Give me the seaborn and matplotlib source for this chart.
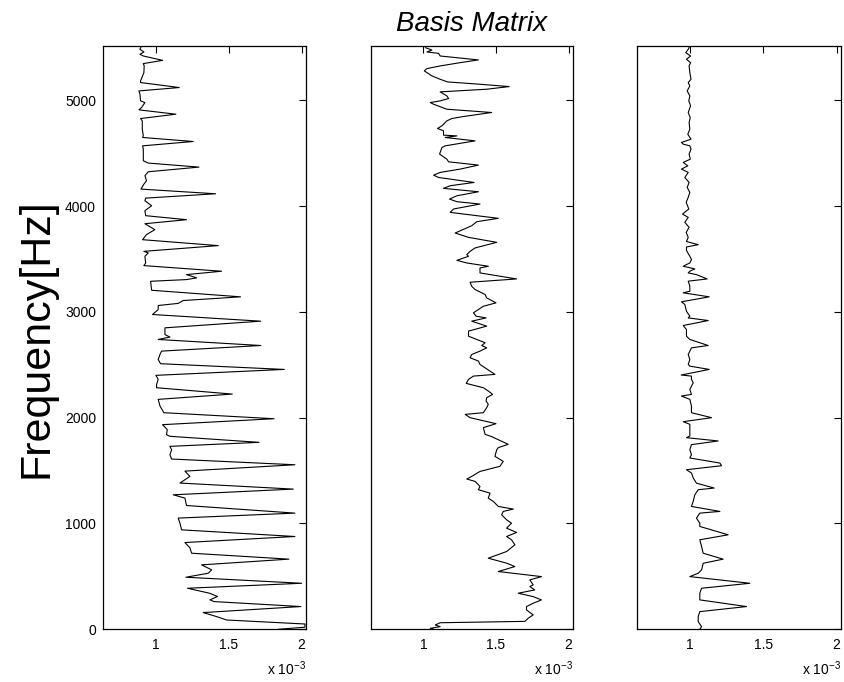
import numpy as np
import matplotlib
matplotlib.use("Agg")
import matplotlib.pyplot as plt
import seaborn as sns

# ---------------- data (values in units of 1e-3) ----------------
freq_1 = [5513, 5481, 5456, 5434, 5418, 5377, 5346, 5324, 5261, 5182, 5167, 5120, 5088, 5057, 4994,
          4978, 4931, 4909, 4868, 4827, 4805, 4726, 4663, 4648, 4610, 4569, 4538, 4428, 4406, 4368,
          4324, 4286, 4239, 4207, 4160, 4116, 4075, 4050, 4003, 3956, 3909, 3871,
          3833, 3777, 3730, 3682, 3626, 3572, 3557, 3525, 3462, 3437, 3384, 3352, 3321, 3305, 3289,
          3204, 3142, 3107, 3080, 3060, 3022, 2975, 2912, 2849, 2785, 2762, 2739, 2682, 2629, 2597,
          2550, 2510, 2456, 2400, 2362, 2315, 2283, 2223, 2173, 2110, 2047, 1990,
          1934, 1887, 1839, 1824, 1767, 1729, 1697, 1650, 1609, 1555, 1495, 1445, 1382, 1325, 1271,
          1240, 1170, 1098, 1051, 1003, 940, 877, 820, 770, 719, 663, 609, 562, 530, 492,
          435, 388, 340, 310, 278, 262, 215, 158, 120, 88, 50, 20, 0]
basis_1 = [0.904, 0.893, 0.920, 0.893, 0.916, 1.048, 0.916, 0.922, 0.920, 0.897, 0.897, 1.162, 0.886, 0.893, 0.897,
           0.927, 0.904, 0.886, 1.139, 0.897, 0.909, 0.909, 0.916, 0.911, 1.258, 0.911, 0.916, 0.916, 0.950, 1.297,
           0.950, 0.927, 0.938, 0.920, 0.900, 1.411, 0.932, 0.927, 0.973, 0.927, 0.932, 1.212,
           0.927, 0.995, 0.938, 0.911, 1.429, 0.920, 0.950, 0.927, 0.932, 0.920, 1.452, 1.212, 1.281, 1.212, 0.966,
           0.973, 1.582, 1.189, 1.155, 1.018, 1.018, 0.979, 1.719, 1.064, 1.064, 1.098, 1.018, 1.721, 1.041, 1.030,
           1.018, 1.034, 1.881, 1.002, 1.018, 1.007, 1.007, 1.525, 1.018, 1.030, 1.057, 1.811,
           1.048, 1.080, 1.075, 1.098, 1.708, 1.098, 1.110, 1.098, 1.110, 1.954, 1.201, 1.235, 1.167, 1.943, 1.121,
           1.201, 1.212, 1.954, 1.155, 1.167, 1.178, 1.954, 1.201, 1.235, 1.247, 1.913, 1.315, 1.384, 1.361, 1.208,
           2.000, 1.219, 1.372, 1.424, 1.372, 1.400, 1.995, 1.326, 1.418, 1.486, 2.023, 2.023, 1.840]

freq_2 = [5497, 5475, 5456, 5443, 5418, 5381, 5355, 5324, 5299, 5277, 5261, 5230, 5198, 5173, 5151,
          5129, 5104, 5079, 5041, 5016, 4994, 4978, 4962, 4915, 4884, 4846, 4827, 4805, 4758, 4733,
          4711, 4670, 4663, 4648, 4616, 4569, 4553, 4491, 4443, 4418, 4387, 4349, 4318, 4292, 4270,
          4223, 4192, 4167, 4135, 4097, 4066, 4041, 4019, 3972, 3940, 3884, 3852, 3814, 3745, 3704, 3657,
          3604, 3572, 3541, 3525, 3487, 3462, 3431, 3415, 3368, 3311, 3280, 3242, 3211, 3164, 3132,
          3085, 3053, 3022, 2991, 2959, 2943, 2912, 2865, 2818, 2770, 2739, 2708, 2682, 2660, 2629,
          2597, 2566, 2535, 2503, 2409, 2393, 2362, 2324, 2283, 2252, 2220, 2189, 2157, 2126, 2094,
          2047, 2031, 2000, 1943, 1906, 1843, 1821, 1748, 1717,
          1697, 1634, 1587, 1540, 1492, 1445, 1420, 1398, 1350, 1319, 1287, 1240, 1208, 1161, 1136,
          1114, 1082, 1035, 1003, 956, 915, 877, 846, 798, 735, 672, 625, 593, 546, 498,
          467, 420, 404, 372, 341, 309, 278, 246, 215, 183, 136, 104, 75, 62, 41, 25, 9, 0]
basis_2 = [1.014, 1.059, 1.025, 1.105, 1.116, 1.379, 1.253, 1.116, 1.025, 1.007, 1.025, 1.059, 1.116, 1.167, 1.390,
           1.591, 1.436, 1.116, 1.162, 1.174, 1.116, 1.048, 1.071, 1.162, 1.470, 1.276, 1.196, 1.162, 1.128, 1.098,
           1.139, 1.139, 1.231, 1.151, 1.356, 1.151, 1.128, 1.112, 1.162, 1.174, 1.379, 1.253, 1.116, 1.071, 1.105,
           1.349, 1.185, 1.139, 1.379, 1.231, 1.180, 1.231, 1.390, 1.208, 1.185, 1.516, 1.368, 1.333, 1.219, 1.311, 1.505,
           1.356, 1.322, 1.299, 1.311, 1.231, 1.299, 1.447, 1.390, 1.390, 1.642, 1.322, 1.333, 1.356, 1.425, 1.436,
           1.500, 1.413, 1.379, 1.345, 1.363, 1.432, 1.333, 1.436, 1.311, 1.311, 1.368, 1.425, 1.402, 1.436, 1.390,
           1.333, 1.322, 1.379, 1.390, 1.493, 1.345, 1.311, 1.295, 1.413, 1.447, 1.477, 1.436, 1.432, 1.447, 1.436,
           1.413, 1.288, 1.322, 1.500, 1.413, 1.425, 1.470, 1.584, 1.516,
           1.505, 1.493, 1.550, 1.527, 1.390, 1.333, 1.299, 1.356, 1.390, 1.379, 1.459, 1.447, 1.482, 1.516, 1.619,
           1.550, 1.539, 1.573, 1.607, 1.573, 1.642, 1.573, 1.607, 1.630, 1.573, 1.447, 1.573, 1.630, 1.516, 1.813,
           1.733, 1.756, 1.733, 1.767, 1.653, 1.756, 1.813, 1.756, 1.710, 1.710, 1.756, 1.721, 1.700, 1.116, 1.082,
           1.116, 1.048, 1.070]

freq_3 = [5513, 5481, 5450, 5418, 5387, 5355, 5324, 5261, 5198, 5167, 5135, 5088, 5041, 4994, 4947,
          4884, 4836, 4789, 4726, 4679, 4632, 4601, 4585, 4569, 4538, 4491, 4443, 4412, 4380, 4349,
          4318, 4270, 4223, 4176, 4129, 4082, 4035, 3972, 3924, 3893, 3846, 3799, 3751, 3704, 3665,
          3635, 3613, 3580, 3525, 3494, 3462, 3447, 3431, 3406, 3384, 3368, 3352, 3311, 3290, 3243,
          3195, 3180, 3142, 3095, 3070, 3006, 2959, 2943, 2918, 2871, 2833, 2770, 2739, 2682, 2660,
          2597, 2550, 2503, 2487, 2456, 2403, 2393, 2362, 2330, 2267, 2220, 2204, 2173, 2110, 2047,
          2000, 1962, 1937, 1874, 1827, 1811, 1780,
          1745, 1697, 1650, 1619, 1571, 1546, 1508, 1477, 1430, 1381, 1335, 1319, 1271, 1209, 1161,
          1114, 1098, 1051, 1003, 972, 893, 846, 782, 719, 663, 624, 561, 530, 498, 435,
          388, 341, 278, 215, 167, 120, 73, 25, 0]
basis_3 = [1.000, 0.989, 0.972, 1.005, 0.977, 1.005, 0.995, 1.000, 1.008, 0.989, 1.000, 0.982, 1.000, 0.993, 1.005,
           0.989, 1.003, 0.995, 1.000, 0.986, 1.008, 0.943, 0.955, 1.000, 1.008, 0.995, 1.003, 0.955, 0.986, 0.943,
           0.989, 0.966, 0.995, 0.982, 1.000, 0.989, 0.975, 0.993, 0.950, 0.989, 0.966, 0.995, 0.975, 0.989, 0.977,
           1.057, 0.977, 0.977, 1.000, 1.011, 1.000, 0.977, 0.955, 1.034, 1.000, 0.989, 1.045, 1.118, 0.989, 1.000,
           1.000, 0.955, 1.132, 0.943, 0.966, 0.977, 1.000, 0.989, 1.125, 0.955, 0.977, 0.977, 1.000, 1.125, 1.011,
           0.989, 1.000, 0.989, 1.000, 1.132, 0.941, 1.011, 1.011, 1.023, 1.000, 1.011, 0.943, 1.000, 1.011, 1.011,
           1.148, 0.955, 1.000, 1.000, 1.000, 0.977, 1.193,
           1.011, 1.000, 1.011, 1.000, 1.205, 1.216, 0.977, 1.011, 1.023, 1.045, 1.166, 1.057, 1.034, 1.023, 1.011,
           1.205, 1.068, 1.045, 1.068, 1.068, 1.261, 1.068, 1.080, 1.091, 1.227, 1.091, 1.080, 1.057, 1.000, 1.409,
           1.080, 1.068, 1.068, 1.386, 1.068, 1.057, 1.057, 1.080, 1.068]

x_ticks = [1.0, 1.5, 2.0]
x_tick_labels = ["1", "1.5", "2"]
y_ticks = [0, 1000, 2000, 3000, 4000, 5000]
y_tick_labels = ["0", "1000", "2000", "3000", "4000", "5000"]
title_text = "Basis Matrix"
ylabel_text = "Frequency[Hz]"
offset_text = r"x 10$^{-3}$"
scale = 1e-3

# ---------------- style ----------------
sns.set_style("white")
plt.rcParams["font.family"] = ["Liberation Sans", "DejaVu Sans"]
plt.rcParams["mathtext.fontset"] = "custom"
plt.rcParams["mathtext.rm"] = "Liberation Sans"
plt.rcParams["mathtext.it"] = "Liberation Sans:italic"
plt.rcParams["mathtext.default"] = "regular"
plt.rcParams["text.color"] = "black"
plt.rcParams["axes.labelcolor"] = "black"
plt.rcParams["axes.titlecolor"] = "black"
plt.rcParams["xtick.color"] = "black"
plt.rcParams["ytick.color"] = "black"

W, H = 845, 682
fig = plt.figure(figsize=(W / 100, H / 100), dpi=100)
fig.patch.set_facecolor("white")

bottom = (H - 629.3) / H
height = 583.3 / H
lefts = [103 / W, 371 / W, 637 / W]
widths = [203 / W, 202 / W, 204 / W]

panels = [(freq_1, basis_1), (freq_2, basis_2), (freq_3, basis_3)]
axes = []
for i, (fr, bv) in enumerate(panels):
    ax = fig.add_axes([lefts[i], bottom, widths[i], height])
    xv = np.asarray(bv) * scale
    sns.lineplot(x=xv, y=np.asarray(fr, dtype=float), orient="y", sort=True,
                 estimator=None, color="black", linewidth=0.8, ax=ax)
    ax.set_xlim(0.64 * scale, 2.03 * scale)
    ax.set_ylim(0, 5512.5)
    ax.set_xticks([t * scale for t in x_ticks])
    ax.set_xticklabels(x_tick_labels)
    ax.set_yticks(y_ticks)
    if i == 0:
        ax.set_yticklabels(y_tick_labels)
        ax.set_ylabel(ylabel_text, fontsize=31, labelpad=6, color="black")
    else:
        ax.set_yticklabels([])
        ax.set_ylabel("")
    ax.set_xlabel("")
    ax.tick_params(direction="in", length=5, width=0.8, top=True, right=True,
                   labelsize=10, colors="black")
    ax.tick_params(axis="x", pad=6)
    ax.tick_params(axis="y", pad=5)
    for sp in ax.spines.values():
        sp.set_visible(True)
        sp.set_color("black")
        sp.set_linewidth(0.9)
    ax.text(1.0, -0.079, offset_text, transform=ax.transAxes, ha="right",
            va="baseline", fontsize=10, color="black")
    ax.grid(False)
    axes.append(ax)

axes[1].set_title(title_text, fontsize=20, fontstyle="italic", pad=11, color="black")

fig.savefig("out.png", dpi=100, facecolor="white")
